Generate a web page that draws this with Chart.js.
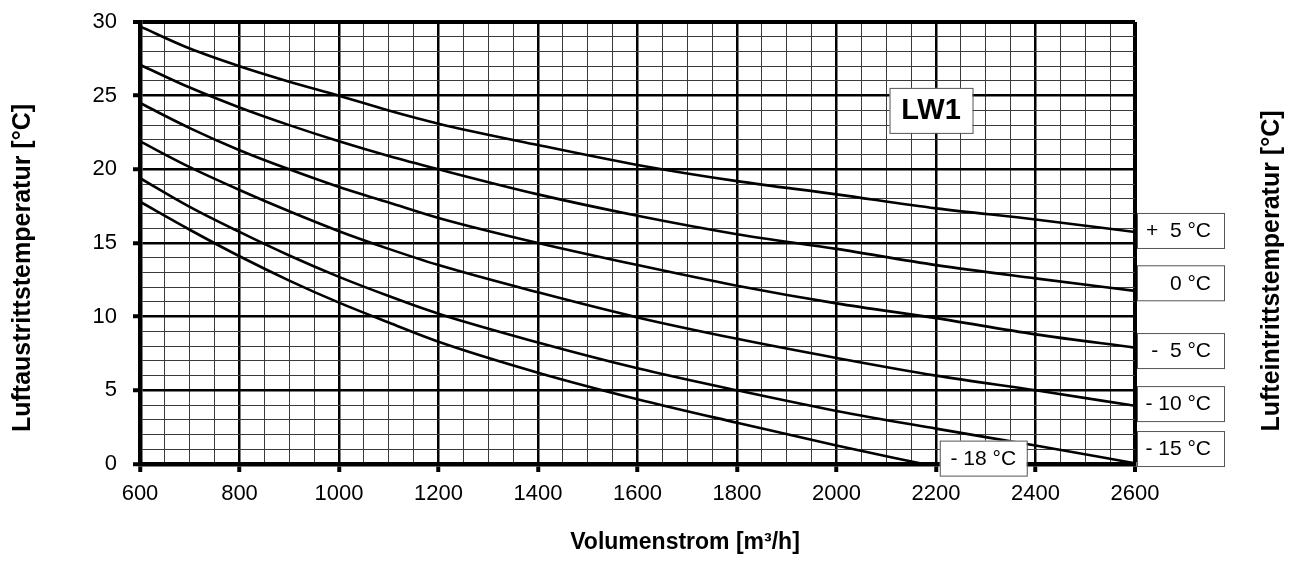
<!DOCTYPE html>
<html lang="de">
<head>
    <meta charset="UTF-8">
    <title>LW1</title>
    <script src="https://cdn.jsdelivr.net/npm/chart.js"></script>
    <style>
        html, body { margin: 0; padding: 0; background: #fff; }
        #wrap { width: 1294px; height: 563px; }
    </style>
</head>
<body>
    <div id="wrap"><canvas id="lwChart" width="1294" height="563"></canvas></div>

    <script>
        // Volumenstrom [m³/h]
        const flow = [600, 700, 800, 900, 1000, 1100, 1200, 1400, 1600, 1800, 2000, 2200, 2400, 2600];
        const flow18 = [600, 700, 800, 900, 1000, 1100, 1200, 1400, 1600, 1800, 2000, 2175];

        // Luftaustrittstemperatur je Lufteintrittstemperatur
        const tPlus5  = [29.7, 28.2, 27.0, 25.95, 25.0, 24.0, 23.1, 21.65, 20.3, 19.2, 18.3, 17.35, 16.6, 15.75];
        const t0      = [27.1, 25.55, 24.2, 23.0, 21.9, 20.9, 20.0, 18.3, 16.85, 15.6, 14.6, 13.5, 12.6, 11.75];
        const tMinus5 = [24.5, 22.8, 21.3, 20.0, 18.8, 17.75, 16.7, 15.0, 13.5, 12.1, 10.9, 9.9, 8.8, 7.9];
        const tMinus10 = [21.9, 20.15, 18.6, 17.15, 15.8, 14.6, 13.5, 11.65, 9.95, 8.5, 7.2, 6.0, 5.0, 3.95];
        const tMinus15 = [19.4, 17.45, 15.75, 14.15, 12.7, 11.4, 10.2, 8.25, 6.5, 5.0, 3.6, 2.4, 1.25, 0.05];
        const tMinus18 = [17.8, 15.9, 14.1, 12.45, 10.95, 9.6, 8.3, 6.2, 4.4, 2.8, 1.25, 0];

        // Beschriftung rechts (Text + Höhe in °C)
        const sideLabels = ["+  5 °C", "0 °C", "-  5 °C", "- 10 °C", "- 15 °C"];
        const sideLabelY = [15.85, 12.3, 7.7, 4.1, 1.05];

        const FONT = "'Liberation Sans', Arial, sans-serif";

        function toPoints(xs, ys) {
            return xs.map((x, i) => ({ x: x, y: ys[i] }));
        }

        function curve(label, xs, ys) {
            return {
                label: label,
                data: toPoints(xs, ys),
                borderColor: '#000',
                borderWidth: 2.6,
                pointRadius: 0,
                fill: false,
                cubicInterpolationMode: 'monotone'
            };
        }

        function box(ctx, x, y, w, h) {
            ctx.fillStyle = '#fff';
            ctx.fillRect(x, y, w, h);
            ctx.strokeStyle = '#555';
            ctx.lineWidth = 1;
            ctx.strokeRect(x + 0.5, y + 0.5, w, h);
        }

        // Titel, Kästchen, Beschriftungen
        const decoPlugin = {
            id: 'deco',
            afterDraw(chart) {
                const ctx = chart.ctx;
                const xs = chart.scales.x;
                const ys = chart.scales.y;
                const area = chart.chartArea;
                ctx.save();

                // rechte Kästchen
                ctx.font = '21px ' + FONT;
                ctx.textBaseline = 'middle';
                for (let i = 0; i < sideLabels.length; i++) {
                    const cy = ys.getPixelForValue(sideLabelY[i]);
                    box(ctx, area.right + 2, cy - 17.5, 87, 35);
                    ctx.fillStyle = '#000';
                    ctx.textAlign = 'right';
                    ctx.fillText(sideLabels[i], area.right + 76, cy + 1);
                }

                // -18 °C Kästchen
                const bx = xs.getPixelForValue(2295);
                const by = ys.getPixelForValue(0.4);
                box(ctx, bx - 43.5, by - 17.5, 87, 35);
                ctx.fillStyle = '#000';
                ctx.textAlign = 'center';
                ctx.fillText('- 18 °C', bx, by + 1);

                // LW1
                const lx = xs.getPixelForValue(2190);
                const ly = ys.getPixelForValue(24.0);
                box(ctx, lx - 41.5, ly - 22.5, 83, 45);
                ctx.fillStyle = '#000';
                ctx.font = 'bold 29px ' + FONT;
                ctx.fillText('LW1', lx, ly + 1);

                // Achsentitel
                ctx.font = 'bold 23px ' + FONT;
                ctx.fillText('Volumenstrom [m³/h]', 685, 543);

                ctx.font = 'bold 25px ' + FONT;
                ctx.save();
                ctx.translate(23, 268);
                ctx.rotate(-Math.PI / 2);
                ctx.fillText('Luftaustrittstemperatur [°C]', 0, 0);
                ctx.restore();

                ctx.save();
                ctx.translate(1272, 271);
                ctx.rotate(-Math.PI / 2);
                ctx.fillText('Lufteintrittstemperatur [°C]', 0, 0);
                ctx.restore();

                ctx.restore();
            }
        };

        const isMajorX = v => v % 200 === 0;
        const isMajorY = v => v % 5 === 0;

        new Chart(document.getElementById('lwChart'), {
            type: 'line',
            data: {
                datasets: [
                    curve('+5 °C', flow, tPlus5),
                    curve('0 °C', flow, t0),
                    curve('-5 °C', flow, tMinus5),
                    curve('-10 °C', flow, tMinus10),
                    curve('-15 °C', flow, tMinus15),
                    curve('-18 °C', flow18, tMinus18)
                ]
            },
            options: {
                responsive: false,
                animation: false,
                layout: { padding: { top: 22, right: 159, left: 0, bottom: 0 } },
                plugins: {
                    legend: { display: false },
                    tooltip: { enabled: false }
                },
                scales: {
                    x: {
                        type: 'linear',
                        min: 600,
                        max: 2600,
                        afterFit: s => { s.height = 99; },
                        border: { display: true, color: '#000', width: 4.5 },
                        grid: {
                            color: c => isMajorX(c.tick.value) ? '#000' : '#3a3a3a',
                            lineWidth: c => c.tick.value === 2600 ? 4 : (isMajorX(c.tick.value) ? 2.5 : 1),
                            tickLength: 8,
                            tickColor: c => isMajorX(c.tick.value) ? '#000' : 'rgba(0,0,0,0)',
                            tickWidth: 4
                        },
                        ticks: {
                            stepSize: 50,
                            autoSkip: false,
                            maxRotation: 0,
                            padding: 9,
                            color: '#000',
                            font: { family: FONT, size: 22 },
                            callback: v => isMajorX(v) ? String(v) : ''
                        }
                    },
                    y: {
                        min: 0,
                        max: 30,
                        afterFit: s => { s.width = 140; s.paddingTop = 0; s.paddingBottom = 0; },
                        border: { display: true, color: '#000', width: 4.5 },
                        grid: {
                            color: c => isMajorY(c.tick.value) ? '#000' : '#3a3a3a',
                            lineWidth: c => c.tick.value === 30 ? 4 : (isMajorY(c.tick.value) ? 2.5 : 1),
                            tickLength: 7,
                            tickColor: c => isMajorY(c.tick.value) ? '#000' : 'rgba(0,0,0,0)',
                            tickWidth: 4
                        },
                        ticks: {
                            stepSize: 1,
                            autoSkip: false,
                            padding: 16,
                            color: '#000',
                            font: { family: FONT, size: 22 },
                            callback: v => isMajorY(v) ? String(v) : ''
                        }
                    }
                }
            },
            plugins: [decoPlugin]
        });
    </script>
</body>
</html>
